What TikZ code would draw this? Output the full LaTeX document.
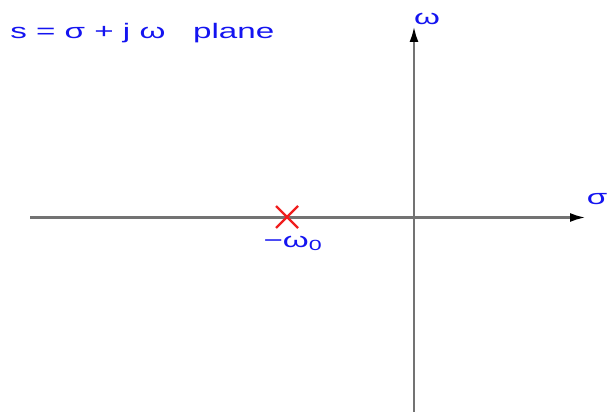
\documentclass[tikz,border=0pt]{standalone}
\usepackage{fontspec}
\setmainfont{Liberation Sans}
\usetikzlibrary{arrows.meta, calc}
\definecolor{axisgray}{RGB}{115,115,115}
\definecolor{labelblue}{RGB}{20,20,240}
\definecolor{polered}{RGB}{240,30,30}

\begin{document}
\begin{tikzpicture}[x=1pt, y=-1pt, every node/.style={font=\fontsize{21}{25}\selectfont, xscale=1.58, text=labelblue, inner sep=0pt},
  axis/.style={axisgray, line width=2.7pt, -{Latex[black, length=16pt, width=9pt]}}]
  \useasboundingbox (0,0) rectangle (608,412);
  % axes
  \coordinate (west) at (30,217.5);
  \coordinate (east) at (586,217.5);
  \coordinate (south) at (414,412);
  \coordinate (north) at (414,26);
  \draw[axis] (west) -- (east);
  \draw[axis] (south) -- (north);
  \node (sig) at (597,199) {σ};
  \node (om) at (427,19) {ω};
  % pole on the real axis
  \coordinate (pole) at (287,217);
  \draw[polered, line width=2.4pt] ($(pole)+(-11,-11)$) -- ($(pole)+(11,11)$)
    ($(pole)+(-11,11)$) -- ($(pole)+(11,-11)$);
  \node (polelbl) at (293,243) {−ω\textsubscript{0}};
  \node[anchor=base west] (title) at (10,39) {s = σ + j ω \ \ plane};
\end{tikzpicture}
\end{document}
